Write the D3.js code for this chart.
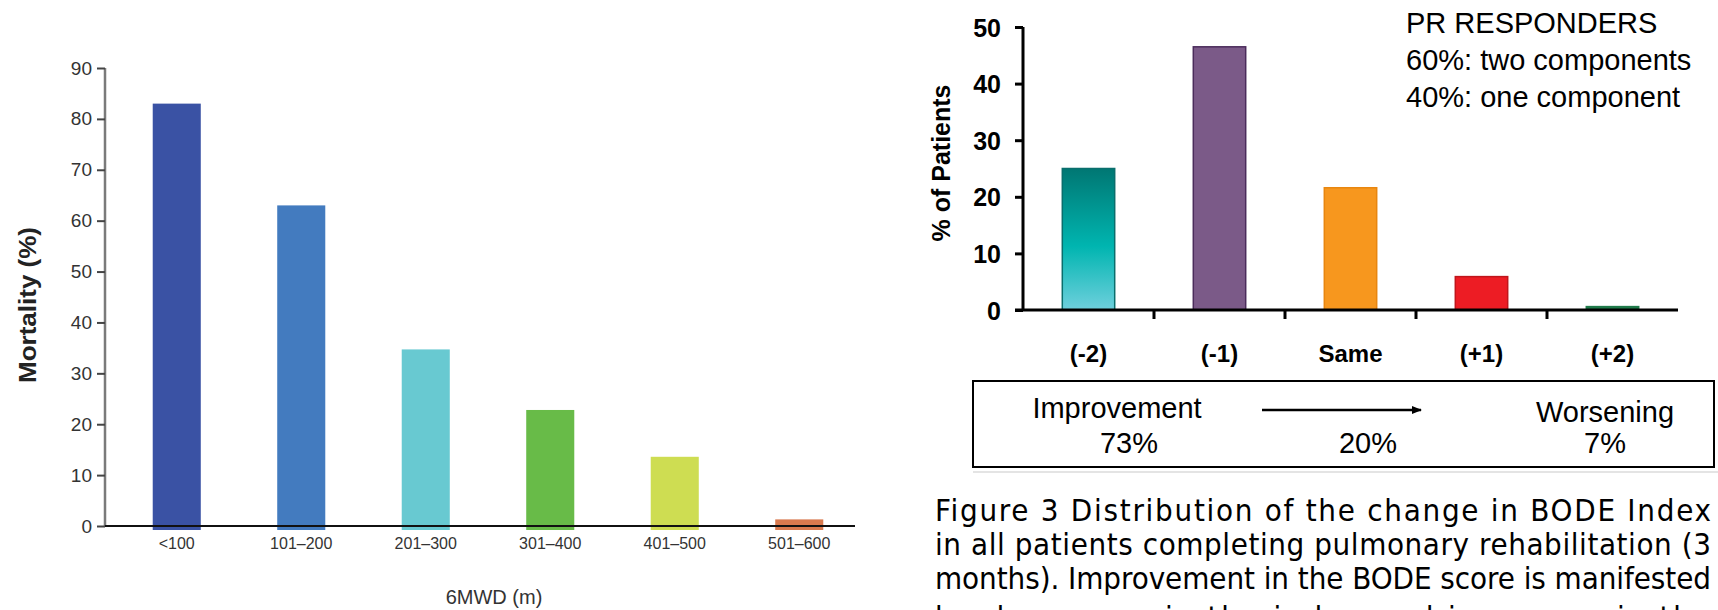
<!DOCTYPE html>
<html><head><meta charset="utf-8">
<script src="https://cdn.jsdelivr.net/npm/d3@7"></script>
<style>body{margin:0;background:#fff}svg{display:block}</style>
</head><body>
<svg id="c" width="1718" height="610"></svg>
<script>
// Left chart data
const leftCats = ["<100","101–200","201–300","301–400","401–500","501–600"];
const leftVals = [83, 63, 34.7, 22.8, 13.6, 1.3];
const leftColors = ["#3A52A4","#437BBF","#68C9D1","#68BB48","#CEDD52","#D97A4F"];
const leftTicks = [0,10,20,30,40,50,60,70,80,90];

// Right chart data
const rightCats = ["(-2)","(-1)","Same","(+1)","(+2)"];
const rightVals = [25, 46.5, 21.6, 5.9, 0.6];
const rightColors = ["url(#tealGrad)","#7B5A88","#F7971E","#ED1C24","#1F7A4A"];
const rightStrokes = ["#0A6E6C","#4B2C5B","#E8860F","#C0151B","#1F7A4A"];
const rightTicks = [0,10,20,30,40,50];
const responders = ["PR RESPONDERS","60%: two components","40%: one component"];
const boxLabels = [["Improvement","73%"],["","20%"],["Worsening","7%"]];
const caption = ["Figure 3  Distribution of the change in BODE Index",
  "in all patients completing pulmonary rehabilitation (3",
  "months). Improvement in the BODE score is manifested",
  "by decreases in the index and increases in the"];

const svg = d3.select("#c");
const defs = svg.append("defs");
const g1 = defs.append("linearGradient").attr("id","tealGrad").attr("x1",0).attr("y1",0).attr("x2",0).attr("y2",1);
g1.append("stop").attr("offset","0%").attr("stop-color","#007773");
g1.append("stop").attr("offset","55%").attr("stop-color","#00B5B0");
g1.append("stop").attr("offset","100%").attr("stop-color","#6FD0DD");
const mk = defs.append("marker").attr("id","arr").attr("viewBox","0 0 10 10").attr("refX",9).attr("refY",5)
  .attr("markerWidth",4).attr("markerHeight",4).attr("orient","auto");
mk.append("path").attr("d","M0,1 L10,5 L0,9 z").attr("fill","#000");

const F = "'Liberation Sans', Arial, sans-serif";

// ---------- LEFT CHART ----------
const xL = d3.scaleBand().domain(leftCats).range([114.5, 861.5]).paddingInner(0.614).paddingOuter(0.307);
const yL = d3.scaleLinear().domain([0,90]).range([526, 68]);
const L = svg.append("g");
L.selectAll("rect.b").data(leftVals).join("rect")
  .attr("x",(d,i)=>xL(leftCats[i])).attr("width",xL.bandwidth())
  .attr("y",d=>yL(d)).attr("height",d=>yL(0)-yL(d)+4)
  .attr("fill",(d,i)=>leftColors[i]);
const yAxL = L.append("g").attr("transform","translate(105,0)")
  .call(d3.axisLeft(yL).tickValues(leftTicks).tickSize(8).tickPadding(5));
yAxL.select(".domain").attr("stroke","#7a7a7a").attr("stroke-width",2.5).attr("d","M0,68V526");
yAxL.selectAll(".tick line").attr("stroke","#444").attr("stroke-width",2);
yAxL.selectAll(".tick text").attr("fill","#333").attr("font-size",19).attr("font-family",F);
L.append("line").attr("x1",105).attr("x2",855).attr("y1",yL(0)).attr("y2",yL(0)).attr("stroke","#111").attr("stroke-width",2);
L.selectAll("text.xl").data(leftCats).join("text")
  .attr("x",d=>xL(d)+xL.bandwidth()/2).attr("y",549).attr("text-anchor","middle")
  .attr("font-size",16).attr("font-family",F).attr("fill","#333").text(d=>d);
L.append("text").attr("x",494).attr("y",604).attr("text-anchor","middle")
  .attr("font-size",20).attr("font-family",F).attr("fill","#333").text("6MWD (m)");
L.append("text").attr("transform","translate(36,305) rotate(-90)").attr("text-anchor","middle")
  .attr("font-size",23).attr("font-weight","bold").attr("font-family",F).attr("fill","#222")
  .attr("textLength",156).attr("lengthAdjust","spacingAndGlyphs").text("Mortality (%)");

// ---------- RIGHT CHART ----------
const xR = d3.scaleBand().domain(rightCats).range([1023, 1678]).paddingInner(0.6).paddingOuter(0.3);
const yR = d3.scaleLinear().domain([0,50]).range([310, 27]);
const R = svg.append("g");
R.selectAll("rect.b").data(rightVals).join("rect")
  .attr("x",(d,i)=>xR(rightCats[i])).attr("width",xR.bandwidth())
  .attr("y",d=>yR(d)).attr("height",d=>yR(0)-yR(d))
  .attr("fill",(d,i)=>rightColors[i]).attr("stroke",(d,i)=>rightStrokes[i]).attr("stroke-width",1.5);
const yAxR = R.append("g").attr("transform","translate(1023,0)")
  .call(d3.axisLeft(yR).tickValues(rightTicks).tickSize(8).tickPadding(14));
yAxR.select(".domain").attr("stroke","#000").attr("stroke-width",3).attr("d","M0,27V310");
yAxR.selectAll(".tick line").attr("stroke","#000").attr("stroke-width",3);
yAxR.selectAll(".tick text").attr("fill","#000").attr("font-size",25).attr("font-weight","bold").attr("font-family",F).attr("dy","0.36em");
R.append("line").attr("x1",1015).attr("x2",1678).attr("y1",yR(0)).attr("y2",yR(0)).attr("stroke","#000").attr("stroke-width",3);
const step = xR.step();
R.selectAll("line.sep").data(rightCats.slice(1)).join("line")
  .attr("x1",d=>xR(d)-step*xR.paddingInner()/2).attr("x2",d=>xR(d)-step*xR.paddingInner()/2)
  .attr("y1",yR(0)).attr("y2",yR(0)+9).attr("stroke","#000").attr("stroke-width",3);
R.selectAll("text.xl").data(rightCats).join("text")
  .attr("x",d=>xR(d)+xR.bandwidth()/2).attr("y",362).attr("text-anchor","middle")
  .attr("font-size",24).attr("font-weight","bold").attr("font-family",F).attr("fill","#000").text(d=>d);
R.append("text").attr("transform","translate(950,163) rotate(-90)").attr("text-anchor","middle")
  .attr("font-size",25).attr("font-weight","bold").attr("font-family",F).attr("fill","#000").text("% of Patients");
R.selectAll("text.resp").data(responders).join("text")
  .attr("x",1406).attr("y",(d,i)=>33+i*37).attr("font-size",29).attr("font-family",F).attr("fill","#000").text(d=>d);

// summary box
R.append("rect").attr("x",973).attr("y",381).attr("width",741).attr("height",86)
  .attr("fill","none").attr("stroke","#000").attr("stroke-width",2);
R.append("line").attr("x1",973).attr("x2",1718).attr("y1",472).attr("y2",472).attr("stroke","#e4e4e4").attr("stroke-width",2);
const boxX = [1117, 1368, 1605];
R.selectAll("text.bl1").data(boxLabels).join("text")
  .attr("x",(d,i)=>boxX[i]).attr("y",(d,i)=>i===2?422:418).attr("text-anchor","middle")
  .attr("font-size",29).attr("font-family",F).attr("fill","#000").text(d=>d[0]);
R.selectAll("text.bl2").data(boxLabels).join("text")
  .attr("x",(d,i)=>boxX[i]+(i===0?12:0)).attr("y",453).attr("text-anchor","middle")
  .attr("font-size",29).attr("font-family",F).attr("fill","#000").text(d=>d[1]);
R.append("line").attr("x1",1262).attr("x2",1421).attr("y1",410).attr("y2",410)
  .attr("stroke","#000").attr("stroke-width",2.5).attr("marker-end","url(#arr)");

// caption
const capLen = [776, 776, 776, 776];
const capY = [521, 555, 589, 628];
svg.selectAll("text.cap").data(caption).join("text")
  .attr("x",935).attr("y",(d,i)=>capY[i])
  .attr("font-size",31).attr("font-family","'DejaVu Sans Condensed','DejaVu Sans',sans-serif")
  .attr("font-stretch","condensed").attr("fill","#000")
  .attr("textLength",(d,i)=>capLen[i]).attr("lengthAdjust","spacing").text(d=>d);
</script>
</body></html>
